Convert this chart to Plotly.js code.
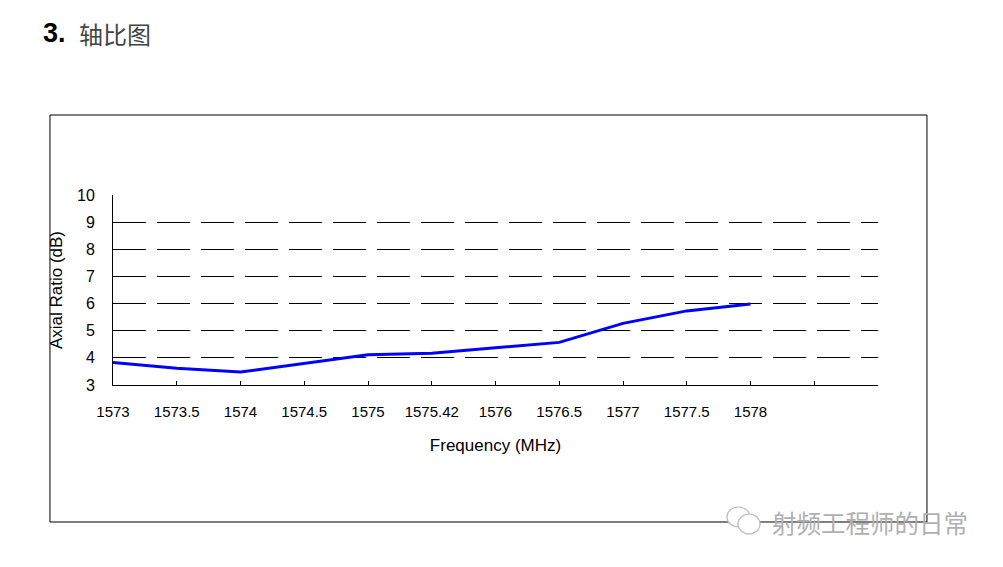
<!DOCTYPE html>
<html>
<head>
<meta charset="utf-8">
<script src="https://cdn.plot.ly/plotly-3.0.1.min.js"></script>
<style>
  html, body { margin: 0; padding: 0; background: #fff; }
  #chart { width: 1003px; height: 567px; }
</style>
</head>
<body>
<div id="chart"></div>
<script>
// Data
var categories = ['1573', '1573.5', '1574', '1574.5', '1575', '1575.42', '1576', '1576.5', '1577', '1577.5', '1578'];
var axialRatio = [3.83, 3.62, 3.48, 3.80, 4.11, 4.17, 4.37, 4.57, 5.27, 5.73, 5.98];
var tickLabels = categories.concat(['', '']);   // two empty slots at the right end
var yTicks = [3, 4, 5, 6, 7, 8, 9, 10];
var gridVals = [4, 5, 6, 7, 8, 9];

var xIdx = categories.map(function (c, i) { return i; });
var tickIdx = tickLabels.map(function (c, i) { return i; });

var font = 'Liberation Sans, Arial, sans-serif';

var trace = {
  x: xIdx,
  y: axialRatio,
  type: 'scatter',
  mode: 'lines',
  line: { color: '#0000ff', width: 3 },
  hoverinfo: 'skip',
  showlegend: false
};

var layout = {
  width: 1003,
  height: 567,
  margin: { l: 113, r: 125, t: 195, b: 182 },
  paper_bgcolor: '#ffffff',
  plot_bgcolor: '#ffffff',
  showlegend: false,
  xaxis: {
    range: [0, tickLabels.length - 1],
    tickmode: 'array',
    tickvals: tickIdx,
    ticktext: tickLabels,
    ticks: 'inside',
    ticklen: 4,
    tickcolor: '#000',
    showline: true,
    linecolor: '#000',
    linewidth: 1,
    showgrid: false,
    zeroline: false,
    tickfont: { family: font, size: 15, color: '#000' },
    ticklabelstandoff: 13,
    title: { text: 'Frequency (MHz)', font: { family: font, size: 17, color: '#000' }, standoff: 20 },
    fixedrange: true
  },
  yaxis: {
    range: [3, 10],
    tickmode: 'array',
    tickvals: yTicks,
    ticks: 'inside',
    ticklen: 5,
    tickcolor: '#000',
    showline: true,
    linecolor: '#000',
    linewidth: 1,
    showgrid: false,
    zeroline: false,
    tickfont: { family: font, size: 16, color: '#000' },
    ticklabelstandoff: 14,
    title: { text: 'Axial Ratio (dB)', font: { family: font, size: 17, color: '#000' }, standoff: 10 },
    minor: {
      tickmode: 'array',
      tickvals: gridVals,
      showgrid: true,
      gridcolor: '#000',
      gridwidth: 1,
      griddash: '33px,11px',
      ticks: ''
    },
    fixedrange: true
  },
  shapes: [
    {
      type: 'rect', xref: 'paper', yref: 'paper',
      x0: -0.0824, x1: 1.064, y0: -0.721, y1: 1.421,
      line: { color: '#000', width: 1 }, fillcolor: 'rgba(0,0,0,0)', layer: 'below'
    },
    {
      type: 'circle', xref: 'paper', yref: 'paper',
      x0: 0.8026, x1: 0.8327, y0: -0.747, y1: -0.642,
      line: { color: '#bbbbbb', width: 1.2 }, fillcolor: '#ffffff', layer: 'above'
    },
    {
      type: 'circle', xref: 'paper', yref: 'paper',
      x0: 0.817, x1: 0.8458, y0: -0.784, y1: -0.679,
      line: { color: '#bbbbbb', width: 1.2 }, fillcolor: '#ffffff', layer: 'above'
    }
  ],
  annotations: [
    {
      text: '<b>3.</b>', xref: 'paper', yref: 'paper',
      x: -0.0935, y: 1.85, xanchor: 'left', yanchor: 'middle', showarrow: false,
      font: { family: font, size: 27, color: '#000' }
    },
    {
      text: '轴比图', xref: 'paper', yref: 'paper',
      x: -0.0472, y: 1.85, xanchor: 'left', yanchor: 'middle', showarrow: false,
      font: { family: 'Noto Sans CJK SC, sans-serif', size: 24, color: '#444' }
    },
    {
      text: '射频工程师的日常', xref: 'paper', yref: 'paper',
      x: 0.99, y: -0.726, xanchor: 'center', yanchor: 'middle', showarrow: false,
      font: { family: 'Noto Sans CJK SC, sans-serif', size: 24.5, color: '#b0b0b0' }
    }
  ]
};

Plotly.newPlot('chart', [trace], layout, { displayModeBar: false, staticPlot: true });
</script>
</body>
</html>
